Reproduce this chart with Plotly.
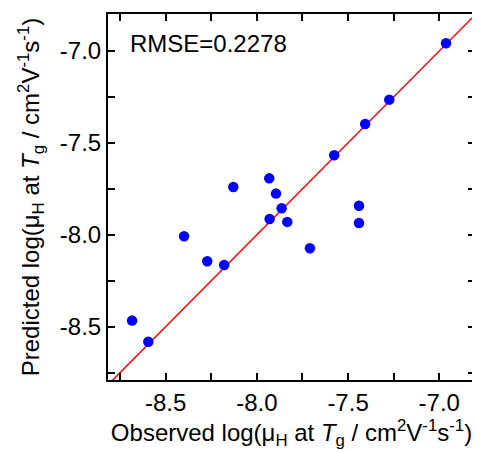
import plotly.graph_objects as go

# observed vs predicted log(mu_H at Tg)
observed = [-6.963, -7.274, -7.406, -7.576, -7.932, -8.129, -7.895, -7.864, -7.930,
            -7.833, -7.440, -7.440, -7.709, -8.399, -8.272, -8.179, -8.684, -8.595]
predicted = [-6.958, -7.265, -7.397, -7.567, -7.693, -7.740, -7.776, -7.856, -7.914,
             -7.930, -7.842, -7.936, -8.073, -8.008, -8.144, -8.164, -8.467, -8.582]
parity = [-9.0, -6.5]
tick_vals = [-8.5, -8.0, -7.5, -7.0]
tick_text = ["-8.5", "-8.0", "-7.5", "-7.0"]
rmse_label = "RMSE=0.2278"

FONT = "Liberation Sans, Arial, sans-serif"
unit = "log(μ<sub>H</sub> at <i>T</i><sub>g</sub> / cm<sup>2</sup>V<sup>-1</sup>s<sup>-1</sup>)"

fig = go.Figure()

# y = x reference line
fig.add_trace(go.Scatter(
    x=parity, y=parity, mode="lines",
    line=dict(color="#FF0000", width=1.5),
    showlegend=False
))

fig.add_trace(go.Scatter(
    x=observed, y=predicted, mode="markers",
    marker=dict(color="#0000FF", size=10.5),
    showlegend=False
))

axis_common = dict(
    showgrid=False, zeroline=False, automargin=False,
    showline=True, linecolor="black", linewidth=2, mirror="ticks",
    ticks="inside", ticklen=7, tickwidth=1.5, tickcolor="black",
    tickvals=tick_vals, ticktext=tick_text,
    minor=dict(ticks="inside", ticklen=7, tickwidth=1.5, tickcolor="black", dtick=0.25),
    tickfont=dict(family=FONT, size=24, color="black"),
)

# page body keeps an 8px margin, so the figure is sized 8px smaller
fig.update_layout(
    width=472, height=444,
    margin={"l": 100, "r": 5, "t": 6, "b": 72},
    plot_bgcolor="white", paper_bgcolor="white",
    font=dict(family=FONT, color="black"),
    xaxis=dict(
        axis_common, range=[-8.816, -6.804],
        title=dict(text="Observed " + unit, font=dict(family=FONT, size=24), standoff=3)
    ),
    yaxis=dict(
        axis_common, range=[-8.79, -6.799],
        title=dict(text="Predicted " + unit, font=dict(family=FONT, size=24), standoff=13)
    ),
    annotations=[dict(
        text=rmse_label, xref="paper", yref="paper", x=0.055, y=0.92,
        xanchor="left", yanchor="middle", showarrow=False,
        font=dict(family=FONT, size=24, color="black")
    )]
)

fig.write_html("out.html")
